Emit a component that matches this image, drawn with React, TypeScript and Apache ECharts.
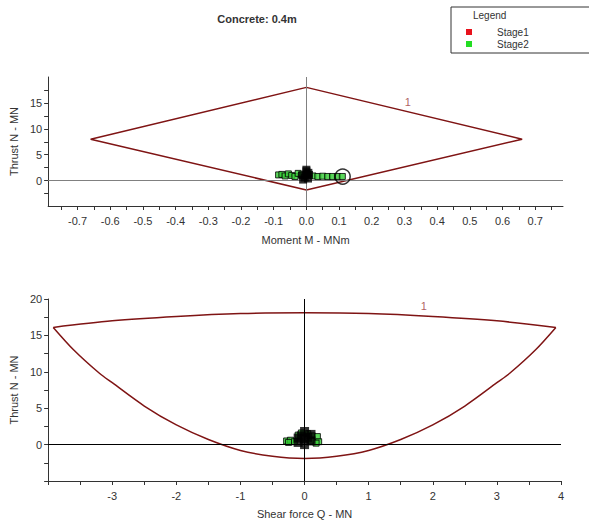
import React, { useEffect, useRef } from "react";
import * as echarts from "echarts";

// ---- data ----
const titleText = "Concrete: 0.4m";
const legendItems = ["Stage1", "Stage2"];

// Top chart: Moment M vs Thrust N
const diamondM = [0, 0.66, 0, -0.66, 0];
const diamondN = [18, 8, -1.8, 8, 18];
const topLabelPos = [0.31, 15.1];
const topStage2M = [-0.085, -0.075, -0.065, -0.055, -0.045, -0.035, -0.025, -0.015, 0.02, 0.035, 0.05, 0.065, 0.08, 0.095, 0.11];
const topStage2N = [1.1, 1.2, 0.9, 1.3, 1.0, 0.8, 1.4, 1.1, 0.9, 0.8, 0.85, 0.8, 0.8, 0.8, 0.8];
const topBlackM = [-0.01, 0.005, -0.012, 0.008, 0.0, -0.005, 0.006, 0.0, 0.0];
const topBlackN = [0.2, 0.4, 1.0, 1.1, 1.8, 0.6, 1.5, 1.2, 2.1];
const topCircle = [0.111, 0.78];
const topXLabels = [-0.7, -0.6, -0.5, -0.4, -0.3, -0.2, -0.1, 0, 0.1, 0.2, 0.3, 0.4, 0.5, 0.6, 0.7];
const topXTicks = [-0.75, -0.7, -0.65, -0.6, -0.55, -0.5, -0.45, -0.4, -0.35, -0.3, -0.25, -0.2, -0.15, -0.1, -0.05, 0, 0.05, 0.1, 0.15, 0.2, 0.25, 0.3, 0.35, 0.4, 0.45, 0.5, 0.55, 0.6, 0.65, 0.7, 0.75];
const topYLabels = [0, 5, 10, 15];
const topYTicks = [-2.5, 0, 2.5, 5, 7.5, 10, 12.5, 15, 17.5];

// Bottom chart: Shear force Q vs Thrust N
const upperQ = [-3.92, -3, -2, -1, 0, 1, 2, 3, 3.92];
const upperN = [16.1, 17.0, 17.6, 18.0, 18.1, 18.0, 17.6, 17.0, 16.1];
const lowerQ = [-3.92, -3.6, -3.2, -3, -2.5, -2, -1.5, -1, -0.5, 0, 0.5, 1, 1.5, 2, 2.5, 3, 3.2, 3.6, 3.92];
const lowerN = [16.1, 13.0, 9.8, 8.5, 5.3, 2.7, 0.7, -0.8, -1.6, -1.9, -1.6, -0.8, 0.7, 2.7, 5.3, 8.5, 9.8, 13.0, 16.1];
const botLabelPos = [1.86, 19.06];
const botStage2Q = [-0.28, -0.22, -0.16, -0.1, -0.05, 0.05, 0.12, 0.2, 0.22, 0.18, -0.25, 0.1];
const botStage2N = [0.5, 0.6, 0.4, 1.3, 1.6, 1.5, 1.2, 1.1, 0.4, 0.2, 0.3, 0.6];
const botBlackQ = [-0.1, 0.0, 0.1, -0.05, 0.05, 0.0, -0.1, 0.1, 0.0];
const botBlackN = [0.3, 0.0, 0.5, 1.2, 1.0, 1.8, 0.9, 1.4, 0.8];
const botXLabels = [-3, -2, -1, 0, 1, 2, 3, 4];
const botXTicks = [-4, -3.5, -3, -2.5, -2, -1.5, -1, -0.5, 0, 0.5, 1, 1.5, 2, 2.5, 3, 3.5, 4];
const botYLabels = [0, 5, 10, 15, 20];
const botYTicks = [-5, -2.5, 0, 2.5, 5, 7.5, 10, 12.5, 15, 17.5, 20];

const FONT = "Liberation Sans, Arial, sans-serif";
const CURVE = "#7f1414";
const zip = (a: number[], b: number[]) => a.map((v, i) => [v, b[i]]);

export default function App() {
  const ref = useRef<HTMLDivElement>(null);
  useEffect(() => {
    if (!ref.current) return;
    const chart = echarts.init(ref.current, null, { renderer: "svg" });
    const axisText = { color: "#333", fontSize: 11, fontFamily: FONT };
    const axisLine = { show: true, onZero: false, lineStyle: { color: "#333", width: 1 } };
    const tick = (vals: number[]) => ({ show: true, length: 4, customValues: vals, lineStyle: { color: "#333" } });

    const zeroLines = (color: string) => ({
      silent: true,
      symbol: "none",
      label: { show: false },
      lineStyle: { color, type: "solid", width: 1 },
      data: [{ xAxis: 0 }, { yAxis: 0 }],
    });

    const curveLabel = {
      show: true, formatter: "1", color: "#9a3838", fontSize: 11, fontFamily: FONT,
      position: "inside", textBorderWidth: 0, textBorderColor: "transparent",
    };

    const option: any = {
      animation: false,
      textStyle: { fontFamily: FONT },
      title: {
        text: titleText,
        left: 252,
        top: 8,
        textAlign: "center",
        textStyle: { fontSize: 11, fontWeight: "bold", color: "#333", fontFamily: FONT },
      },
      grid: [
        { left: 43, right: 26, top: 77, height: 129 },
        { left: 43, right: 28, top: 299, height: 182 },
      ],
      xAxis: [
        {
          gridIndex: 0, type: "value", min: -0.79, max: 0.785,
          axisLine, axisTick: tick(topXTicks), splitLine: { show: false },
          axisLabel: { ...axisText, margin: 9, customValues: topXLabels, formatter: (v: number) => v.toFixed(1) },
          name: "Moment M - MNm", nameLocation: "middle", nameGap: 28,
          nameTextStyle: { ...axisText },
        },
        {
          gridIndex: 1, type: "value", min: -4, max: 4,
          axisLine, axisTick: tick(botXTicks), splitLine: { show: false },
          axisLabel: { ...axisText, margin: 9, customValues: botXLabels },
          name: "Shear force Q - MN", nameLocation: "middle", nameGap: 27,
          nameTextStyle: { ...axisText },
        },
      ],
      yAxis: [
        {
          gridIndex: 0, type: "value", min: -4.9, max: 20,
          axisLine, axisTick: tick(topYTicks), splitLine: { show: false },
          axisLabel: { ...axisText, margin: 6, customValues: topYLabels },
          name: "Thrust N - MN", nameLocation: "middle", nameGap: 23,
          nameTextStyle: { ...axisText },
        },
        {
          gridIndex: 1, type: "value", min: -5, max: 20,
          axisLine, axisTick: tick(botYTicks), splitLine: { show: false },
          axisLabel: { ...axisText, margin: 6, customValues: botYLabels },
          name: "Thrust N - MN", nameLocation: "middle", nameGap: 23,
          nameTextStyle: { ...axisText },
        },
      ],
      series: [
        {
          type: "line", xAxisIndex: 0, yAxisIndex: 0, data: zip(diamondM, diamondN),
          symbol: "none", lineStyle: { color: CURVE, width: 1.5 },
          markLine: zeroLines("#808080"), z: 3,
        },
        {
          type: "scatter", xAxisIndex: 0, yAxisIndex: 0, data: [topLabelPos],
          symbolSize: 1, itemStyle: { color: "rgba(0,0,0,0)" }, label: curveLabel,
        },
        {
          type: "scatter", xAxisIndex: 0, yAxisIndex: 0, data: zip(topStage2M, topStage2N),
          symbol: "rect", symbolSize: 6, itemStyle: { color: "#33cc33", borderColor: "#000", borderWidth: 1 }, z: 4,
        },
        {
          type: "scatter", xAxisIndex: 0, yAxisIndex: 0, data: zip(topBlackM, topBlackN),
          symbol: "rect", symbolSize: 8, itemStyle: { color: "#000" }, z: 5,
        },
        {
          type: "scatter", xAxisIndex: 0, yAxisIndex: 0, data: [topCircle],
          symbol: "circle", symbolSize: 15, itemStyle: { color: "rgba(0,0,0,0)", borderColor: "#000", borderWidth: 1.5 }, z: 6,
        },
        {
          type: "line", xAxisIndex: 1, yAxisIndex: 1, data: zip(upperQ, upperN),
          symbol: "none", smooth: 0.3, lineStyle: { color: CURVE, width: 1.5 },
          markLine: zeroLines("#000"), z: 3,
        },
        {
          type: "line", xAxisIndex: 1, yAxisIndex: 1, data: zip(lowerQ, lowerN),
          symbol: "none", smooth: 0.3, lineStyle: { color: CURVE, width: 1.5 }, z: 3,
        },
        {
          type: "scatter", xAxisIndex: 1, yAxisIndex: 1, data: [botLabelPos],
          symbolSize: 1, itemStyle: { color: "rgba(0,0,0,0)" }, label: curveLabel,
        },
        {
          type: "scatter", xAxisIndex: 1, yAxisIndex: 1, data: zip(botStage2Q, botStage2N),
          symbol: "rect", symbolSize: 6, itemStyle: { color: "#33cc33", borderColor: "#000", borderWidth: 1 }, z: 4,
        },
        {
          type: "scatter", xAxisIndex: 1, yAxisIndex: 1, data: zip(botBlackQ, botBlackN),
          symbol: "rect", symbolSize: 9, itemStyle: { color: "#000" }, z: 5,
        },
      ],
      graphic: [
        { type: "rect", shape: { x: 451, y: 7, width: 150, height: 46 }, style: { fill: "#fff", stroke: "#333", lineWidth: 1 } },
        { type: "text", x: 473, y: 10, style: { text: "Legend", fontSize: 10, fill: "#333", fontFamily: FONT } },
        { type: "rect", shape: { x: 466, y: 29, width: 6, height: 6 }, style: { fill: "#e8121c" } },
        { type: "text", x: 497, y: 27, style: { text: legendItems[0], fontSize: 10, fill: "#333", fontFamily: FONT } },
        { type: "rect", shape: { x: 466, y: 41, width: 6, height: 6 }, style: { fill: "#22dd22" } },
        { type: "text", x: 497, y: 39, style: { text: legendItems[1], fontSize: 10, fill: "#333", fontFamily: FONT } },
      ],
    };
    chart.setOption(option);
    return () => chart.dispose();
  }, []);
  return <div ref={ref} style={{ position: "fixed", left: 0, top: 0, width: 589, height: 520, background: "#fff" }} />;
}
